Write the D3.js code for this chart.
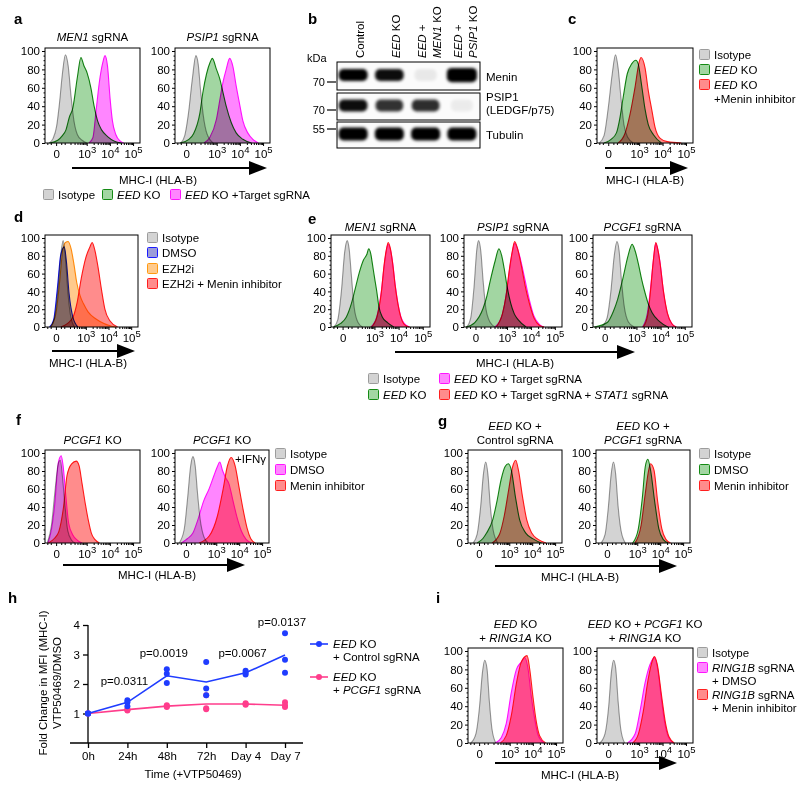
<!DOCTYPE html>
<html><head><meta charset="utf-8">
<script src="https://cdn.jsdelivr.net/npm/d3@7"></script>
<style>
body{margin:0;background:#fff}
svg{display:block}
text{font-family:'Liberation Sans',Arial,Helvetica,sans-serif;fill:#000}
</style>
</head><body>
<script>
// ---------------- DATA ----------------
// flow histograms: [position on logicle axis (10^3 = 3, 10^4 = 4 ...), % of max]
const xTickPos = [1.68, 3, 4, 5];
const xTickLabels = ["0", "10^3", "10^4", "10^5"];
const yTickVals = [0, 20, 40, 60, 80, 100];

// a
const a1Iso = [[1.38,0],[1.55,5],[1.7,18],[1.82,42],[1.95,75],[2.08,96],[2.2,84],[2.32,52],[2.45,24],[2.6,9],[2.8,3],[3.0,0]];
const a1Eed = [[1.40,0],[1.75,3],[1.95,8],[2.1,14],[2.25,28],[2.4,38],[2.6,72],[2.75,93],[2.88,84],[3.02,76],[3.18,60],[3.32,40],[3.47,24],[3.65,14],[3.9,7],[4.2,2],[4.5,0]];
const a1Tgt = [[3.1,0],[3.27,6],[3.4,34],[3.54,65],[3.69,87],[3.79,95],[3.9,83],[4.01,48],[4.11,24],[4.26,9],[4.45,2],[4.6,0]];
const a2Iso = [[1.45,0],[1.62,8],[1.78,32],[1.95,70],[2.1,95],[2.2,86],[2.3,58],[2.42,30],[2.58,10],[2.85,0]];
const a2Eed = [[1.42,0],[1.8,4],[2.0,10],[2.27,32],[2.41,56],[2.56,75],[2.72,88],[2.81,92],[2.99,80],[3.13,70],[3.27,55],[3.41,40],[3.63,22],[3.84,11],[4.13,4],[4.5,0]];
const a2Tgt = [[2.45,0],[2.7,6],[2.99,26],[3.13,46],[3.27,66],[3.41,80],[3.56,92],[3.7,83],[3.84,62],[3.99,42],[4.13,24],[4.34,11],[4.56,4],[4.8,0]];
// c
const cIso = [[1.3,0],[1.5,8],[1.68,38],[1.85,75],[1.99,96],[2.1,82],[2.22,50],[2.35,20],[2.52,6],[2.75,0]];
const cEed = [[1.5,0],[1.8,4],[2.03,11],[2.17,26],[2.32,50],[2.49,75],[2.68,86],[2.86,90],[2.96,86],[3.11,62],[3.25,37],[3.39,20],[3.61,9],[3.95,0]];
const cMenin = [[2.1,0],[2.39,10],[2.6,30],[2.82,60],[3.0,88],[3.08,93],[3.25,82],[3.39,57],[3.54,36],[3.68,17],[3.9,5],[4.2,1.5],[4.8,0]];
// d
const dIso = [[1.45,0],[1.62,10],[1.78,45],[1.9,82],[2.0,97],[2.1,78],[2.2,42],[2.32,14],[2.5,0]];
const dDmso = [[1.4,0],[1.58,8],[1.74,42],[1.9,82],[2.05,90],[2.15,72],[2.26,38],[2.42,12],[2.65,0]];
const dEzh = [[1.45,0],[1.68,15],[1.85,52],[1.98,86],[2.1,95],[2.22,96],[2.35,88],[2.48,70],[2.6,50],[2.75,35],[2.9,26],[3.1,17],[3.45,9],[3.8,4],[4.3,0]];
const dCombo = [[1.9,0],[2.2,4],[2.45,12],[2.62,28],[2.8,55],[3.0,78],[3.18,90],[3.28,95],[3.4,86],[3.54,67],[3.69,42],[3.84,20],[4.06,7],[4.4,0]];
// e
const e1Iso = [[1.32,0],[1.48,8],[1.63,40],[1.77,85],[1.87,97],[1.95,88],[2.05,56],[2.16,22],[2.32,5],[2.5,0]];
const e1Eed = [[1.3,0],[1.6,4],[1.83,11],[2.04,26],[2.23,46],[2.37,61],[2.54,75],[2.69,82],[2.76,88],[2.85,82],[2.92,70],[3.0,56],[3.09,41],[3.19,22],[3.33,11],[3.54,5],[3.8,0]];
const e1Tgt = [[2.85,0],[3.1,12],[3.28,39],[3.4,68],[3.5,87],[3.56,93],[3.66,87],[3.76,71],[3.86,47],[3.97,27],[4.09,12],[4.23,4],[4.45,0]];
const e1Stat = [[2.88,0],[3.11,12],[3.29,40],[3.4,70],[3.5,88],[3.57,95],[3.66,88],[3.76,70],[3.86,46],[3.97,26],[4.09,11],[4.23,3],[4.45,0]];
const e2Iso = [[1.32,0],[1.48,10],[1.62,45],[1.74,88],[1.81,97],[1.9,86],[2.0,52],[2.12,20],[2.3,5],[2.5,0]];
const e2Eed = [[1.28,0],[1.65,5],[2.0,21],[2.15,34],[2.29,51],[2.51,75],[2.66,88],[2.78,80],[2.88,66],[3.0,46],[3.15,27],[3.3,15],[3.47,8],[3.8,0]];
const e2Tgt = [[2.5,0],[2.8,14],[2.95,34],[3.1,63],[3.22,84],[3.32,94],[3.44,88],[3.59,73],[3.76,52],[3.94,30],[4.13,12],[4.35,3],[4.55,0]];
const e2Stat = [[2.55,0],[2.81,15],[2.96,35],[3.1,65],[3.22,85],[3.32,96],[3.44,88],[3.59,70],[3.76,46],[3.94,26],[4.13,10],[4.35,2],[4.55,0]];
const e3Iso = [[1.55,0],[1.78,10],[1.94,40],[2.08,80],[2.19,96],[2.28,86],[2.38,52],[2.5,22],[2.66,6],[2.9,0]];
const e3Eed = [[1.25,0],[1.79,5],[2.05,18],[2.22,31],[2.44,55],[2.65,80],[2.82,93],[2.94,86],[3.08,71],[3.22,53],[3.33,41],[3.49,26],[3.65,16],[3.96,6],[4.3,0]];
const e3Tgt = [[3.25,0],[3.45,15],[3.57,40],[3.7,75],[3.8,94],[3.9,85],[3.98,72],[4.12,39],[4.28,15],[4.46,4],[4.65,0]];
const e3Stat = [[3.28,0],[3.47,14],[3.58,40],[3.7,75],[3.8,95],[3.9,85],[3.96,75],[4.12,40],[4.28,16],[4.46,4],[4.65,0]];
// f
const f1Iso = [[1.3,0],[1.48,20],[1.64,60],[1.77,88],[1.86,92],[1.96,72],[2.06,42],[2.18,14],[2.35,3],[2.5,0]];
const f1Dmso = [[1.33,0],[1.48,15],[1.61,40],[1.78,90],[1.9,97],[1.98,86],[2.1,52],[2.22,22],[2.4,9],[2.6,3],[2.8,0]];
const f1Menin = [[1.35,0],[1.6,5],[1.8,13],[2.0,40],[2.15,75],[2.35,88],[2.55,91],[2.67,86],[2.8,66],[2.95,42],[3.08,24],[3.2,11],[3.35,4],[3.55,0]];
const f2Iso = [[1.38,0],[1.6,15],[1.75,50],[1.88,85],[1.98,96],[2.08,86],[2.18,56],[2.3,26],[2.46,7],[2.65,0]];
const f2Dmso = [[1.48,0],[1.75,5],[1.98,11],[2.2,26],[2.44,46],[2.7,61],[2.9,75],[3.05,85],[3.15,90],[3.28,80],[3.42,72],[3.55,66],[3.72,48],[3.9,29],[4.1,13],[4.3,4],[4.55,0]];
const f2Menin = [[2.25,0],[2.7,8],[3.05,30],[3.3,60],[3.48,85],[3.65,95],[3.82,86],[4.0,61],[4.18,36],[4.35,16],[4.5,5],[4.7,0]];
// g
const g1Iso = [[1.42,0],[1.6,10],[1.75,40],[1.87,76],[1.97,90],[2.07,76],[2.17,42],[2.3,14],[2.5,0]];
const g1Dmso = [[1.6,0],[1.85,5],[2.01,11],[2.28,26],[2.46,46],[2.64,70],[2.82,85],[2.96,88],[3.09,81],[3.27,51],[3.45,26],[3.72,11],[4.08,4],[4.4,0]];
const g1Menin = [[2.25,0],[2.58,10],[2.78,30],[2.98,60],[3.15,85],[3.28,92],[3.4,81],[3.58,51],[3.76,26],[3.98,11],[4.26,4],[4.6,0]];
const g2Iso = [[1.42,0],[1.6,10],[1.74,40],[1.86,76],[1.96,90],[2.06,76],[2.16,42],[2.29,14],[2.48,0]];
const g2Dmso = [[2.8,0],[3.04,15],[3.22,50],[3.35,85],[3.46,93],[3.58,81],[3.76,46],[3.94,16],[4.13,4],[4.35,0]];
const g2Menin = [[2.9,0],[3.17,20],[3.35,55],[3.49,80],[3.58,88],[3.73,81],[3.89,46],[4.07,16],[4.25,4],[4.45,0]];
// i
const i1Iso = [[1.32,0],[1.54,10],[1.7,40],[1.82,76],[1.92,90],[2.02,81],[2.12,46],[2.23,16],[2.4,0]];
const i1Dmso = [[2.38,0],[2.64,6],[2.85,21],[3.07,55],[3.29,80],[3.5,88],[3.65,93],[3.79,81],[3.93,51],[4.08,26],[4.22,9],[4.48,0]];
const i1Menin = [[2.6,0],[2.85,8],[3.07,30],[3.29,65],[3.5,88],[3.75,95],[3.86,81],[4.0,51],[4.15,23],[4.29,8],[4.55,0]];
const i2Iso = [[1.32,0],[1.54,10],[1.7,40],[1.81,76],[1.91,90],[2.0,81],[2.1,46],[2.21,16],[2.38,0]];
const i2Dmso = [[2.5,0],[2.83,10],[3.04,35],[3.25,65],[3.46,85],[3.65,93],[3.79,81],[3.96,46],[4.1,21],[4.24,7],[4.46,0]];
const i2Menin = [[2.72,0],[2.97,10],[3.18,35],[3.39,70],[3.57,90],[3.65,94],[3.77,86],[3.96,51],[4.13,21],[4.27,7],[4.5,0]];

// b: western blot
const lanes = ["Control", "EED KO", "EED + MEN1 KO", "EED + PSIP1 KO"];
const laneLabels = [["Control"], ["*EED* KO"], ["*EED* +", "*MEN1* KO"], ["*EED* +", "*PSIP1* KO"]];
const meninBand = [1.0, 0.95, 0.07, 1.15];
const psip1Band = [0.95, 0.8, 0.82, 0.06];
const tubulinBand = [1.0, 1.0, 1.0, 1.0];
const blotRows = ["Menin", "PSIP1", "Tubulin"];
const mwLabels = ["70", "70", "55"];

// h: fold change
const hCats = ["0h", "24h", "48h", "72h", "Day 4", "Day 7"];
const ctrlMean = [1, 1.38, 2.28, 2.07, 2.38, 2.98];
const ctrlPts = [[1, 1, 1], [1.45, 1.38, 1.25], [2.5, 2.35, 2.03], [2.75, 1.85, 1.62], [2.45, 2.38, 2.32], [3.72, 2.82, 2.38]];
const pcgfMean = [1, 1.13, 1.25, 1.32, 1.32, 1.28];
const pcgfPts = [[1, 1, 1], [1.15, 1.12, 1.1], [1.28, 1.25, 1.22], [1.62, 1.18, 1.14], [1.35, 1.32, 1.3], [1.38, 1.28, 1.22]];
const pLabels = ["p=0.0311", "p=0.0019", "p=0.0067", "p=0.0137"];
const pCats = ["24h", "48h", "Day 4", "Day 7"];
const pLevels = [1.96, 2.91, 2.91, 3.97];
const hYTicks = [1, 2, 3, 4];

// ---------------- STYLE ----------------
const XDOM = [1.2, 5.3];
const COL = {
  iso: {fill: "#d3d3d3", stroke: "#9c9c9c"},
  green: {fill: "#a2d6a2", stroke: "#148a14"},
  mag: {fill: "#ff86ff", stroke: "#ff14ff"},
  red: {fill: "#ff8c8c", stroke: "#ff1f1f"},
  blue: {fill: "#9d9dd8", stroke: "#1a1aff"},
  orange: {fill: "#ffca8c", stroke: "#ff9a10"}
};
const HBLUE = "#1f3cff", HPINK = "#ff3d8c";

const svg = d3.select("body").append("svg").attr("width", 800).attr("height", 787);
svg.append("rect").attr("width", 800).attr("height", 787).attr("fill", "#fff");

function rich(t, str) {
  str.split(/(\*[^*]+\*)/).filter(s => s.length).forEach(s => {
    const it = s.startsWith("*");
    t.append("tspan").attr("font-style", it ? "italic" : null).text(it ? s.slice(1, -1) : s);
  });
  return t;
}
function label(x, y, str, o = {}) {
  const t = svg.append("text").attr("x", x).attr("y", y)
    .attr("font-size", o.size || 11).attr("text-anchor", o.anchor || "start");
  if (o.bold) t.attr("font-weight", "bold");
  if (o.rotate) t.attr("transform", `rotate(-90,${x},${y})`);
  return rich(t, str);
}
function arrow(x0, x1, y) {
  svg.append("line").attr("x1", x0).attr("x2", x1 - 10).attr("y1", y).attr("y2", y)
    .attr("stroke", "#000").attr("stroke-width", 2);
  svg.append("path").attr("d", `M${x1},${y}L${x1 - 18},${y - 7}L${x1 - 18},${y + 7}Z`).attr("fill", "#000");
}
function legend(x, rows) {
  rows.forEach(r => {
    if (r.col) {
      svg.append("rect").attr("x", x + 0.5).attr("y", r.y - 5.5).attr("width", 10).attr("height", 10)
        .attr("rx", 1).attr("fill", r.col.fill).attr("stroke", r.col.stroke).attr("stroke-width", 1);
    }
    label(x + 15, r.y + 4, r.text, {size: 11.5});
  });
}
function fmtTick(sel) {
  sel.selectAll(".tick text").each(function(d, i) {
    const t = d3.select(this); const s = xTickLabels[i]; t.text(null);
    if (s.includes("^")) {
      const [b, e] = s.split("^");
      t.append("tspan").text(b);
      t.append("tspan").attr("dy", -5).attr("font-size", 9.5).text(e);
    } else t.text(s);
  });
}
const minorX = [];
[2, 3, 4].forEach(dd => d3.range(2, 10).forEach(k => { const v = dd + Math.log10(k); if (v > 2.25 && v < 5.2) minorX.push(v); }));
[1.3, 1.45, 1.9, 2.05].forEach(v => minorX.push(v));

function hist(o) {
  const xs = d3.scaleLinear().domain(XDOM).range([o.x0, o.x1]);
  const ys = d3.scaleLinear().domain([0, 100]).range([o.yb, o.yt]);
  const g = svg.append("g");
  const area = d3.area().x(d => xs(d[0])).y0(ys(0)).y1(d => ys(d[1])).curve(d3.curveMonotoneX);
  const line = d3.line().x(d => xs(d[0])).y(d => ys(d[1])).curve(d3.curveMonotoneX);
  o.curves.forEach(([data, col]) => {
    g.append("path").attr("d", area(data)).attr("fill", col.fill).style("mix-blend-mode", "multiply");
  });
  o.curves.forEach(([data, col]) => {
    g.append("path").attr("d", line(data)).attr("fill", "none").attr("stroke", col.stroke)
      .attr("stroke-width", 1.1).style("mix-blend-mode", "multiply");
  });
  g.append("rect").attr("x", o.x0).attr("y", o.yt - 3).attr("width", o.x1 - o.x0)
    .attr("height", o.yb - o.yt + 3).attr("fill", "none").attr("stroke", "#000").attr("stroke-width", 1);
  const ya = g.append("g").attr("transform", `translate(${o.x0},0)`)
    .call(d3.axisLeft(ys).tickValues(yTickVals).tickSize(3).tickPadding(2));
  ya.select(".domain").remove();
  ya.attr("font-size", 11.5);
  g.append("g").attr("transform", `translate(${o.x0},0)`)
    .call(d3.axisLeft(ys).tickValues(d3.range(5, 100, 5).filter(v => v % 20)).tickSize(1.5).tickFormat(""))
    .select(".domain").remove();
  const xa = g.append("g").attr("transform", `translate(0,${o.yb})`)
    .call(d3.axisBottom(xs).tickValues(xTickPos).tickSize(3).tickPadding(4));
  xa.select(".domain").remove();
  xa.attr("font-size", 11.5);
  fmtTick(xa);
  g.append("g").attr("transform", `translate(0,${o.yb})`)
    .call(d3.axisBottom(xs).tickValues(minorX).tickSize(2).tickFormat(""))
    .select(".domain").remove();
  (o.title || []).forEach((tl, i) => label((o.x0 + o.x1) / 2, o.ty + i * 13.5, tl, {anchor: "middle", size: 11.5}));
}

// ---------------- PANEL a ----------------
label(14, 24, "a", {size: 15, bold: true});
hist({x0: 45, x1: 140, yt: 51, yb: 143, ty: 41, title: ["*MEN1* sgRNA"],
  curves: [[a1Iso, COL.iso], [a1Eed, COL.green], [a1Tgt, COL.mag]]});
hist({x0: 175, x1: 270, yt: 51, yb: 143, ty: 41, title: ["*PSIP1* sgRNA"],
  curves: [[a2Iso, COL.iso], [a2Eed, COL.green], [a2Tgt, COL.mag]]});
arrow(72, 267, 168);
label(158, 184, "MHC-I (HLA-B)", {anchor: "middle", size: 11.5});
[[43, "Isotype", COL.iso], [102, "*EED* KO", COL.green], [170, "*EED* KO +Target sgRNA", COL.mag]]
  .forEach(([x, t, c]) => legend(x, [{y: 195, col: c, text: t}]));

// ---------------- PANEL b ----------------
label(308, 24, "b", {size: 15, bold: true});
const bx = d3.scaleBand().domain(lanes).range([335, 480]);
const boxes = [[62, 90], [93, 120], [122, 148]];
const defs = svg.append("defs");
defs.append("filter").attr("id", "blur").attr("x", "-30%").attr("y", "-60%").attr("width", "160%").attr("height", "220%")
  .append("feGaussianBlur").attr("stdDeviation", 1.4);
[meninBand, psip1Band, tubulinBand].forEach((band, r) => {
  const [y0, y1] = boxes[r];
  svg.append("rect").attr("x", 337).attr("y", y0).attr("width", 143).attr("height", y1 - y0)
    .attr("fill", "#fbfbfb").attr("stroke", "#000").attr("stroke-width", 1);
  const cy = r === 0 ? 75 : (y0 + y1) / 2 - 1;
  band.forEach((v, i) => {
    const w = bx.bandwidth() * (0.6 + 0.2 * Math.min(v, 1.2));
    const h = (r === 2 ? 13 : 12) + 3 * Math.max(0, v - 1) * 5;
    svg.append("rect").attr("x", bx(lanes[i]) + bx.bandwidth() / 2 - w / 2).attr("y", cy - h / 2)
      .attr("width", w).attr("height", h).attr("rx", 5).attr("fill", "#000")
      .attr("opacity", Math.min(1, v)).attr("filter", "url(#blur)");
  });
});
laneLabels.forEach((ls, i) => {
  const cx = bx(lanes[i]) + bx.bandwidth() / 2;
  if (ls.length === 1) label(cx + 11, 58, ls[0], {rotate: true, size: 11.5});
  else { label(cx, 58, ls[0], {rotate: true, size: 11.5}); label(cx + 15, 58, ls[1], {rotate: true, size: 11.5}); }
});
label(307, 62, "kDa", {size: 11});
[82, 110, 129].forEach((y, i) => {
  label(325, y + 4, mwLabels[i], {anchor: "end", size: 11});
  svg.append("line").attr("x1", 327).attr("x2", 336).attr("y1", y).attr("y2", y).attr("stroke", "#000").attr("stroke-width", 1.2);
});
label(486, 81, blotRows[0], {size: 11.5});
label(486, 101, blotRows[1], {size: 11.5});
label(486, 114, "(LEDGF/p75)", {size: 11.5});
label(486, 139, blotRows[2], {size: 11.5});

// ---------------- PANEL c ----------------
label(568, 24, "c", {size: 15, bold: true});
hist({x0: 597, x1: 693, yt: 51, yb: 143, curves: [[cIso, COL.iso], [cEed, COL.green], [cMenin, COL.red]]});
arrow(605, 688, 168);
label(645, 184, "MHC-I (HLA-B)", {anchor: "middle", size: 11.5});
legend(699, [{y: 55, col: COL.iso, text: "Isotype"}, {y: 70, col: COL.green, text: "*EED* KO"},
  {y: 85, col: COL.red, text: "*EED* KO"}, {y: 99, text: "+Menin inhibitor"}]);

// ---------------- PANEL d ----------------
label(14, 222, "d", {size: 15, bold: true});
hist({x0: 45, x1: 138, yt: 238, yb: 327, curves: [[dIso, COL.iso], [dDmso, COL.blue], [dEzh, COL.orange], [dCombo, COL.red]]});
arrow(52, 135, 351);
label(88, 367, "MHC-I (HLA-B)", {anchor: "middle", size: 11.5});
legend(147, [{y: 238, col: COL.iso, text: "Isotype"}, {y: 253, col: COL.blue, text: "DMSO"},
  {y: 269, col: COL.orange, text: "EZH2i"}, {y: 284, col: COL.red, text: "EZH2i + Menin inhibitor"}]);

// ---------------- PANEL e ----------------
label(308, 224, "e", {size: 15, bold: true});
hist({x0: 331, x1: 430, yt: 238, yb: 327, ty: 231, title: ["*MEN1* sgRNA"],
  curves: [[e1Iso, COL.iso], [e1Eed, COL.green], [e1Tgt, COL.mag], [e1Stat, COL.red]]});
hist({x0: 464, x1: 562, yt: 238, yb: 327, ty: 231, title: ["*PSIP1* sgRNA"],
  curves: [[e2Iso, COL.iso], [e2Eed, COL.green], [e2Tgt, COL.mag], [e2Stat, COL.red]]});
hist({x0: 593, x1: 692, yt: 238, yb: 327, ty: 231, title: ["*PCGF1* sgRNA"],
  curves: [[e3Iso, COL.iso], [e3Eed, COL.green], [e3Tgt, COL.mag], [e3Stat, COL.red]]});
arrow(395, 635, 352);
label(515, 367, "MHC-I (HLA-B)", {anchor: "middle", size: 11.5});
legend(368, [{y: 379, col: COL.iso, text: "Isotype"}, {y: 395, col: COL.green, text: "*EED* KO"}]);
legend(439, [{y: 379, col: COL.mag, text: "*EED* KO + Target sgRNA"},
  {y: 395, col: COL.red, text: "*EED* KO + Target sgRNA + *STAT1* sgRNA"}]);

// ---------------- PANEL f ----------------
label(16, 425, "f", {size: 15, bold: true});
hist({x0: 45, x1: 140, yt: 453, yb: 543, ty: 444, title: ["*PCGF1* KO"],
  curves: [[f1Iso, COL.iso], [f1Dmso, COL.mag], [f1Menin, COL.red]]});
hist({x0: 175, x1: 269, yt: 453, yb: 543, ty: 444, title: ["*PCGF1* KO"],
  curves: [[f2Iso, COL.iso], [f2Dmso, COL.mag], [f2Menin, COL.red]]});
label(266, 463, "+IFNγ", {anchor: "end", size: 11.5});
arrow(63, 245, 565);
label(157, 579, "MHC-I (HLA-B)", {anchor: "middle", size: 11.5});
legend(275, [{y: 454, col: COL.iso, text: "Isotype"}, {y: 470, col: COL.mag, text: "DMSO"},
  {y: 486, col: COL.red, text: "Menin inhibitor"}]);

// ---------------- PANEL g ----------------
label(438, 426, "g", {size: 15, bold: true});
hist({x0: 468, x1: 562, yt: 453, yb: 543, ty: 430, title: ["*EED* KO +", "Control sgRNA"],
  curves: [[g1Iso, COL.iso], [g1Dmso, COL.green], [g1Menin, COL.red]]});
hist({x0: 596, x1: 690, yt: 453, yb: 543, ty: 430, title: ["*EED* KO +", "*PCGF1* sgRNA"],
  curves: [[g2Iso, COL.iso], [g2Dmso, COL.green], [g2Menin, COL.red]]});
arrow(495, 677, 566);
label(580, 581, "MHC-I (HLA-B)", {anchor: "middle", size: 11.5});
legend(699, [{y: 454, col: COL.iso, text: "Isotype"}, {y: 470, col: COL.green, text: "DMSO"},
  {y: 486, col: COL.red, text: "Menin inhibitor"}]);

// ---------------- PANEL h ----------------
label(8, 603, "h", {size: 15, bold: true});
const hx = d3.scalePoint().domain(hCats).range([88, 285]);
const hy = d3.scaleLinear().domain([0, 4]).range([743, 625]);
const hg = svg.append("g");
hg.append("line").attr("x1", 88).attr("x2", 88).attr("y1", hy(0)).attr("y2", hy(4)).attr("stroke", "#000").attr("stroke-width", 1.3);
hg.append("line").attr("x1", 70).attr("x2", 303).attr("y1", hy(0)).attr("y2", hy(0)).attr("stroke", "#000").attr("stroke-width", 1.3);
const hya = hg.append("g").attr("transform", "translate(88,0)")
  .call(d3.axisLeft(hy).tickValues(hYTicks).tickFormat(d3.format("d")).tickSize(5).tickPadding(3));
hya.select(".domain").remove(); hya.attr("font-size", 11.5);
hya.selectAll("line").attr("stroke-width", 1.3);
const hxa = hg.append("g").attr("transform", `translate(0,${hy(0)})`).call(d3.axisBottom(hx).tickSize(5).tickPadding(4));
hxa.select(".domain").remove(); hxa.attr("font-size", 11.5);
hxa.selectAll("line").attr("stroke-width", 1.3);
const hline = d3.line().x((d, i) => hx(hCats[i])).y(d => hy(d));
[[pcgfMean, pcgfPts, HPINK], [ctrlMean, ctrlPts, HBLUE]].forEach(([m, pts, c]) => {
  hg.append("path").attr("d", hline(m)).attr("fill", "none").attr("stroke", c).attr("stroke-width", 1.6);
  pts.forEach((arr, i) => arr.forEach(v => hg.append("circle").attr("cx", hx(hCats[i])).attr("cy", hy(v)).attr("r", 3).attr("fill", c)));
});
pLabels.forEach((p, i) => label(hx(pCats[i]) - 3, hy(pLevels[i]), p, {anchor: "middle", size: 11.5}));
label(47, 683, "Fold Change in MFI (MHC-I)", {anchor: "middle", size: 11.5, rotate: true});
label(61, 683, "VTP50469/DMSO", {anchor: "middle", size: 11.5, rotate: true});
label(193, 778, "Time (+VTP50469)", {anchor: "middle", size: 11.5});
[[644, HBLUE, "*EED* KO", "+ Control sgRNA"], [677, HPINK, "*EED* KO", "+ *PCGF1* sgRNA"]].forEach(([y, c, t1, t2]) => {
  hg.append("line").attr("x1", 310).attr("x2", 328).attr("y1", y).attr("y2", y).attr("stroke", c).attr("stroke-width", 1.6);
  hg.append("circle").attr("cx", 319).attr("cy", y).attr("r", 3).attr("fill", c);
  label(333, y + 4, t1, {size: 11.5});
  label(333, y + 17, t2, {size: 11.5});
});

// ---------------- PANEL i ----------------
label(436, 603, "i", {size: 15, bold: true});
hist({x0: 468, x1: 563, yt: 651, yb: 743, ty: 628, title: ["*EED* KO", "+ *RING1A* KO"],
  curves: [[i1Iso, COL.iso], [i1Dmso, COL.mag], [i1Menin, COL.red]]});
hist({x0: 597, x1: 693, yt: 651, yb: 743, ty: 628, title: ["*EED* KO + *PCGF1* KO", "+ *RING1A* KO"],
  curves: [[i2Iso, COL.iso], [i2Dmso, COL.mag], [i2Menin, COL.red]]});
arrow(495, 677, 763);
label(580, 779, "MHC-I (HLA-B)", {anchor: "middle", size: 11.5});
legend(697, [{y: 653, col: COL.iso, text: "Isotype"}, {y: 668, col: COL.mag, text: "*RING1B* sgRNA"},
  {y: 681, text: "+ DMSO"}, {y: 695, col: COL.red, text: "*RING1B* sgRNA"}, {y: 708, text: "+ Menin inhibitor"}]);
</script>
</body></html>
